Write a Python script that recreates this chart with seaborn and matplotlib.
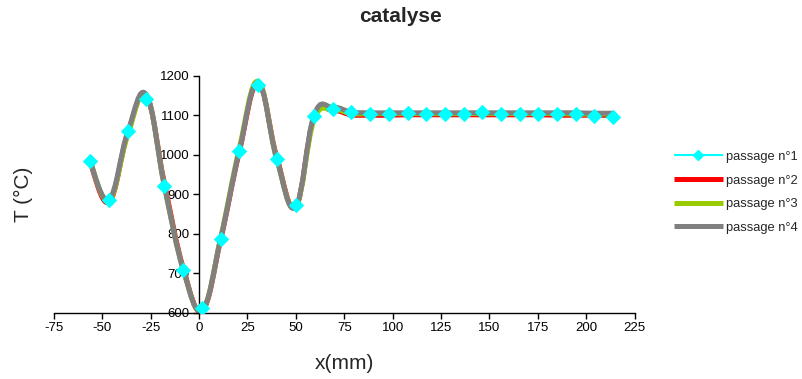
import matplotlib
matplotlib.use("Agg")
import matplotlib.pyplot as plt
from matplotlib.path import Path
from matplotlib.patches import PathPatch
from matplotlib.lines import Line2D
import seaborn as sns
import numpy as np

# positions along the reactor (mm)
x_mm = [-56.3, -46.5, -36.8, -27.2, -17.9, -8.1, 1.7, 11.2, 20.8, 30.5,
        40.1, 49.9, 59.4, 69.1, 78.7, 88.5, 98.2, 107.8, 117.4, 127.1,
        136.7, 146.3, 155.9, 165.6, 175.2, 184.8, 194.5, 204.1, 213.8]

# temperatures (degC) for each pass
passage_1 = [983, 886, 1059, 1142, 920, 709, 611, 787, 1009, 1176,
             990, 873, 1098, 1115, 1107, 1102, 1102, 1105, 1103, 1103,
             1103, 1107, 1104, 1104, 1104, 1102, 1102, 1098, 1095]
passage_2 = [981, 880, 1055, 1148, 928, 712, 606, 785, 1007, 1180,
             995, 868, 1095, 1112, 1101, 1100, 1100, 1101, 1101, 1101,
             1101, 1101, 1101, 1101, 1101, 1100, 1100, 1100, 1100]
passage_3 = [984, 884, 1050, 1150, 921, 708, 608, 790, 1016, 1186,
             990, 868, 1088, 1114, 1104, 1104, 1104, 1104, 1104, 1104,
             1104, 1104, 1104, 1104, 1104, 1104, 1103, 1103, 1103]
passage_4 = [983, 887, 1058, 1152, 921, 708, 608, 788, 1010, 1182,
             990, 868, 1100, 1120, 1108, 1106, 1106, 1106, 1106, 1106,
             1106, 1106, 1106, 1106, 1106, 1106, 1106, 1105, 1105]

labels = ["passage n°1", "passage n°2", "passage n°3", "passage n°4"]
colors = ["#00FFFF", "#FF0000", "#99CC00", "#808080"]
widths = [1.5, 3.6, 3.6, 3.6]

x_ticks = [-75, -50, -25, 0, 25, 50, 75, 100, 125, 150, 175, 200, 225]
y_ticks = [600, 700, 800, 900, 1000, 1100, 1200]


# smoothed line like excel (bezier segments through the points)
def smooth_path(xs, ys, k=5.0):
    pts = np.column_stack([xs, ys]).astype(float)
    n = len(pts)
    verts = [pts[0]]
    codes = [Path.MOVETO]
    for i in range(n - 1):
        p0 = pts[max(i - 1, 0)]
        p1 = pts[i]
        p2 = pts[i + 1]
        p3 = pts[min(i + 2, n - 1)]
        verts += [p1 + (p2 - p0) / k, p2 - (p3 - p1) / k, p2]
        codes += [Path.CURVE4] * 3
    return Path(verts, codes)


sns.set_style("white")
plt.rcParams["font.family"] = ["Liberation Sans", "DejaVu Sans"]

fig = plt.figure(figsize=(8.02, 3.79), dpi=100)
ax = fig.add_axes([0.0671, 0.1749, 0.7242, 0.6254])

series = [passage_1, passage_2, passage_3, passage_4]
for k in range(4):
    patch = PathPatch(smooth_path(x_mm, series[k]), facecolor="none",
                      edgecolor=colors[k], lw=widths[k], capstyle="round",
                      joinstyle="round", zorder=1.1 + 0.1 * k)
    ax.add_patch(patch)

sns.lineplot(x=x_mm, y=passage_1, ax=ax, sort=False, linestyle="none",
             marker="D", markersize=7.2, color=colors[0],
             markeredgecolor=colors[0], zorder=10, legend=False)

ax.set_xlim(-75, 225)
ax.set_ylim(600, 1200)
ax.set_xticks(x_ticks)
ax.set_yticks(y_ticks)
ax.set_xticklabels([str(t) for t in x_ticks])
ax.set_yticklabels([str(t) for t in y_ticks])

ax.spines["top"].set_visible(False)
ax.spines["right"].set_visible(False)
ax.spines["left"].set_position(("data", 0))
for s in ["left", "bottom"]:
    ax.spines[s].set_color("black")
    ax.spines[s].set_linewidth(1)
ax.tick_params(bottom=True, left=True, direction="out", length=4, width=1,
               colors="black", labelsize=9.5, pad=3)

ax.set_xlabel("x(mm)", fontsize=15)
ax.set_ylabel("T (°C)", fontsize=15)
ax.xaxis.set_label_coords(0.5, -0.175)
ax.yaxis.set_label_coords(-0.036, 0.5)

fig.suptitle("catalyse", x=0.5, y=1 - 7 / 379, va="top", fontsize=15,
             fontweight="bold")

handles = [Line2D([], [], color=colors[0], lw=1.5, marker="D",
                  markersize=5.5, markeredgecolor=colors[0],
                  solid_capstyle="butt")]
for k in range(1, 4):
    handles.append(Line2D([], [], color=colors[k], lw=3.6,
                          solid_capstyle="butt"))
fig.legend(handles, labels, loc="center left", bbox_to_anchor=(0.840, 0.4924),
           frameon=False, fontsize=9.3, handlelength=3.8, handletextpad=0.25,
           labelspacing=0.9, borderpad=0, borderaxespad=0)

fig.savefig("out.png", dpi=100)
